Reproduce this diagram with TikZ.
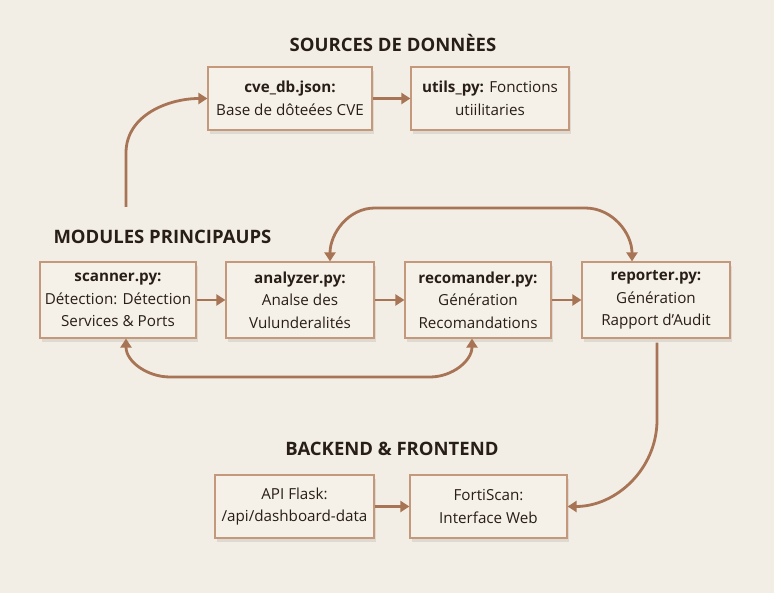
\documentclass[tikz,border=0pt]{standalone}
\usepackage{fontspec}
\setmainfont{Open Sans}[Ligatures = NoCommon]
\usetikzlibrary{arrows.meta,shadows}
\definecolor{fond}{RGB}{243,238,229}
\definecolor{boite}{RGB}{245,240,232}
\definecolor{bord}{RGB}{196,152,122}
\definecolor{fleche}{RGB}{168,116,86}
\definecolor{encre}{RGB}{40,30,24}
\tikzset{
	module/.style = {draw = bord, fill = boite, line width = 1.2pt, align = center,
		text = encre, font = \fontsize{15.2}{22.5}\selectfont,
		drop shadow = {shadow xshift = 2pt, shadow yshift = -4pt, opacity = 0.18}},
	titre/.style = {text = encre, font = \fontsize{18.5}{20}\selectfont\bfseries},
	lien/.style = {draw = fleche, line width = 2.8pt, > = {Triangle[length = 9pt, width = 11pt]}}
}
\begin{document}
\begin{tikzpicture}[x = 1pt, y = 1pt]
	\fill[fond] ( 0, 0) rectangle ( 774, 593);
	\useasboundingbox ( 0, 0) rectangle ( 774, 593);
	% sources
	\node[titre] (tsources) at ( 393, 550 ) {SOURCES DE DONNÈES};
	\node[module, minimum width = 164pt, minimum height = 63pt] (cve) at ( 290, 494.5 ) {\textbf{cve\_db.json:}\\Base de dôteées CVE};
	\node[module, minimum width = 158pt, minimum height = 63pt] (utils) at ( 490, 494.5 ) {\textbf{utils\_py:} Fonctions\\utiilitaries};
	% modules
	\node[titre, anchor = west] (tmodules) at ( 50, 356 ) {MODULES PRINCIPAUPS};
	\node[module, minimum width = 156pt, minimum height = 76pt] (scanner) at ( 118, 293 ) {\textbf{scanner.py:}\\Détection: Détection\\Services \& Ports};
	\node[module, minimum width = 148pt, minimum height = 76pt] (analyzer) at ( 300, 293 ) {\textbf{analyzer.py:}\\Analse des\\Vulunderalités};
	\node[module, minimum width = 146pt, minimum height = 76pt] (recomander) at ( 478, 293 ) {\textbf{recomander.py:}\\Génération\\Recomandations};
	\node[module, minimum width = 148pt, minimum height = 76pt] (reporter) at ( 656, 293 ) {\textbf{reporter.py:}\\Génération\\Rapport d'Audit};
	% backend
	\node[titre] (tbackend) at ( 392, 144 ) {BACKEND \& FRONTEND};
	\node[module, minimum width = 159pt, minimum height = 63pt] (api) at ( 294.5, 86.5 ) {API Flask:\\/api/dashboard-data};
	\node[module, minimum width = 157pt, minimum height = 63pt] (forti) at ( 488.5, 86.5 ) {FortiScan:\\Interface Web};
	\coordinate (depart) at ( 126, 386 );
	% fleches
	\draw[lien, ->] (depart) -- ( 126, 440 ) to [out = 90, in = 180] (cve.west);
	\draw[lien, ->] (cve) -- (utils);
	\draw[lien, ->] (scanner) -- (analyzer);
	\draw[lien, ->] (analyzer) -- (recomander);
	\draw[lien, ->] (recomander) -- (reporter);
	\draw[lien, <->] ([xshift = 30pt] analyzer.north) to [out = 90, in = 180] ( 375, 385 ) -- ( 585, 385 ) to [out = 0, in = 90] ([xshift = -24pt] reporter.north);
	\draw[lien, <->] ([xshift = 8pt] scanner.south) to [out = -90, in = 180] ( 170, 216 ) -- ( 430, 216 ) to [out = 0, in = -90] ([xshift = -6pt] recomander.south);
	\draw[lien, ->] ([xshift = 1pt, yshift = -4pt] reporter.south) -- ( 657, 173 ) to [out = -90, in = 0] (forti.east);
	\draw[lien, ->] (api) -- (forti);
\end{tikzpicture}
\end{document}
